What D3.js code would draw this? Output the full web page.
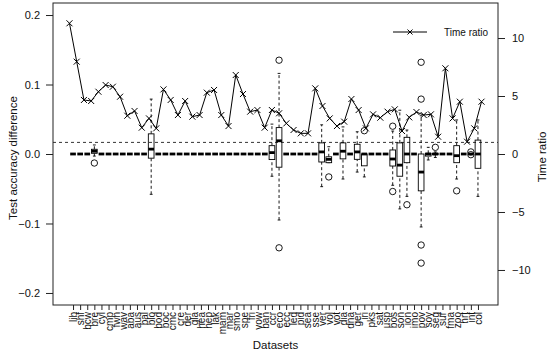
<!DOCTYPE html>
<html>
<head>
<meta charset="utf-8">
<script src="https://cdn.jsdelivr.net/npm/d3@7"></script>
<style>
  body { margin: 0; background: #fff; }
  svg { display: block; font-family: "Liberation Sans", Arial, sans-serif; }
</style>
</head>
<body>
<svg id="chart" width="550" height="356"></svg>
<script>
// dataset abbreviations along the x axis
var datasets = ["lib","shf","bcw","bre","cyl","cmp","fwn","wav","aba","aus",
  "bal","blo","bod","boc","cmc","cre","der","gla","hea","hep",
  "lak","mam","mar","smo","spe","fri","vow","ban","ccr","eco",
  "ecc","led","pid","sea","sse","ver","vol","vot","dia","dna",
  "ger","iri","pks","sat","usp","bos","son","ion","imo","pov",
  "soy","seg","sur","fma","zoo","hrt","int","col"];

// time ratio, one value per dataset (right axis)
var timeRatio = [11.27, 7.96, 4.66, 4.57, 5.37, 5.95, 5.80, 4.94, 3.30, 3.71,
  2.27, 3.07, 2.21, 5.57, 4.66, 3.36, 4.57, 3.22, 3.36, 5.29,
  5.52, 3.36, 2.41, 6.81, 5.17, 3.65, 3.79, 2.27, 3.79, 3.51,
  2.64, 2.07, 1.78, 1.78, 5.66, 4.14, 3.07, 2.41, 2.79, 4.74,
  3.79, 2.21, 3.42, 3.13, 3.65, 3.85, 1.98, 3.16, 3.62, 3.36,
  3.42, 1.49, 7.39, 3.07, 4.51, 1.06, 2.21, 4.51];

// datasets whose accuracy difference is not all zero
var boxSets = ["bre","blo","ccr","eco","ver","vol","dia","ger","iri","bos",
  "son","ion","pov","soy","seg","zoo","int","col"];
// [lower whisker, q1, median, q3, upper whisker]
var boxStats = [
  [-0.003, 0.001, 0.004, 0.0068, 0.013],
  [-0.058, -0.006, 0.007, 0.029, 0.079],
  [-0.032, -0.008, 0.002, 0.012, 0.043],
  [-0.095, -0.019, 0.019, 0.038, 0.116],
  [-0.047, -0.0115, 0.003, 0.016, 0.042],
  [-0.0125, -0.0125, -0.0077, -0.004, 0.0105],
  [-0.036, -0.007, 0.004, 0.016, 0.039],
  [-0.026, -0.0077, 0.003, 0.014, 0.032],
  [-0.033, -0.017, 0, 0, 0],
  [-0.045, -0.0173, -0.0072, 0.0058, 0.033],
  [-0.079, -0.032, -0.016, 0.016, 0.063],
  [-0.061, -0.0125, 0, 0.024, 0.0345],
  [-0.105, -0.053, -0.026, 0, 0.055],
  [-0.0086, -0.003, 0, 0.001, 0.0096],
  [-0.005, -0.001, 0, 0.001, 0.003],
  [-0.036, -0.0125, -0.0024, 0.012, 0.049],
  [0, 0, 0, 0, 0],
  [-0.061, -0.0206, 0, 0.020, 0.049]
];
// outlying points: dataset, value
var outlierSets = ["bre","eco","eco","vol","iri","bos","bos","ion","pov","pov",
  "pov","pov","seg","zoo","int","int"];
var outlierValues = [-0.013, 0.135, -0.135, -0.033, 0.0335, 0.040, -0.054, -0.073, 0.132, 0.079,
  -0.131, -0.157, 0.0096, -0.053, 0.003, -0.001];

var leftTicks = [-0.2, -0.1, 0.0, 0.1, 0.2];
var rightTicks = [-10, -5, 0, 5, 10];

var svg = d3.select("#chart");
var plot = {left: 53, right: 498, top: 3, bottom: 305};
var n = datasets.length;

// boxplot coordinates (xlim 0.5..n+0.5, 4% padding)
var xBox = d3.scaleLinear()
  .domain([0.5 - 0.04 * n, n + 0.5 + 0.04 * n])
  .range([plot.left, plot.right]);
// overlaid line plot coordinates (xlim 1..n, 4% padding)
var xLine = d3.scaleLinear()
  .domain([1 - 0.04 * (n - 1), n + 0.04 * (n - 1)])
  .range([plot.left, plot.right]);

var yAcc = d3.scaleLinear().domain([-0.2173, 0.2173]).range([plot.bottom, plot.top]);
var yTime = d3.scaleLinear().domain([-13.02, 13.02]).range([plot.bottom, plot.top]);

var boxW = 0.8 * (xBox(2) - xBox(1));

// full stats for every dataset; untouched ones collapse to zero
var allStats = datasets.map(function(name, i) {
  var k = boxSets.indexOf(name);
  return {name: name, idx: i + 1, s: k >= 0 ? boxStats[k] : [0, 0, 0, 0, 0]};
});

var g = svg.append("g");

// whiskers
allStats.forEach(function(d) {
  var cx = xBox(d.idx);
  var s = d.s;
  [[s[0], s[1]], [s[3], s[4]]].forEach(function(w) {
    if (w[0] !== w[1]) {
      g.append("line")
        .attr("x1", cx).attr("x2", cx)
        .attr("y1", yAcc(w[0])).attr("y2", yAcc(w[1]))
        .attr("stroke", "#000").attr("stroke-width", 0.9)
        .attr("stroke-dasharray", "3,2.5");
    }
  });
  [s[0], s[4]].forEach(function(v) {
    g.append("line")
      .attr("x1", cx - boxW / 4).attr("x2", cx + boxW / 4)
      .attr("y1", yAcc(v)).attr("y2", yAcc(v))
      .attr("stroke", "#000").attr("stroke-width", 0.9);
  });
});

// boxes
allStats.forEach(function(d) {
  var cx = xBox(d.idx);
  var s = d.s;
  g.append("rect")
    .attr("x", cx - boxW / 2)
    .attr("y", yAcc(s[3]))
    .attr("width", boxW)
    .attr("height", yAcc(s[1]) - yAcc(s[3]))
    .attr("fill", "#fff").attr("stroke", "#000").attr("stroke-width", 0.9);
  g.append("line")
    .attr("x1", cx - boxW / 2).attr("x2", cx + boxW / 2)
    .attr("y1", yAcc(s[2])).attr("y2", yAcc(s[2]))
    .attr("stroke", "#000").attr("stroke-width", 2.8);
});

// outliers
g.selectAll(".out")
  .data(outlierValues)
  .enter().append("circle")
  .attr("cx", function(v, i) { return xBox(datasets.indexOf(outlierSets[i]) + 1); })
  .attr("cy", function(v) { return yAcc(v); })
  .attr("r", 3.2)
  .attr("fill", "none").attr("stroke", "#000").attr("stroke-width", 0.9);

// reference line at time ratio 1
g.append("line")
  .attr("x1", plot.left).attr("x2", plot.right)
  .attr("y1", yTime(1)).attr("y2", yTime(1))
  .attr("stroke", "#000").attr("stroke-width", 0.8)
  .attr("stroke-dasharray", "3,3");

// time ratio line
var line = d3.line()
  .x(function(d, i) { return xLine(i + 1); })
  .y(function(d) { return yTime(d); });

g.append("path")
  .datum(timeRatio)
  .attr("d", line)
  .attr("fill", "none").attr("stroke", "#000").attr("stroke-width", 1);

function cross(sel, x, y, r) {
  sel.append("path")
    .attr("d", "M" + (x - r) + "," + (y - r) + "L" + (x + r) + "," + (y + r) +
      "M" + (x - r) + "," + (y + r) + "L" + (x + r) + "," + (y - r))
    .attr("stroke", "#000").attr("stroke-width", 1).attr("fill", "none");
}
timeRatio.forEach(function(v, i) { cross(g, xLine(i + 1), yTime(v), 3); });

// frame
svg.append("rect")
  .attr("x", plot.left).attr("y", plot.top)
  .attr("width", plot.right - plot.left).attr("height", plot.bottom - plot.top)
  .attr("fill", "none").attr("stroke", "#222").attr("stroke-width", 1);

// axes
var leftAxis = svg.append("g")
  .attr("transform", "translate(" + plot.left + ",0)")
  .call(d3.axisLeft(yAcc).tickValues(leftTicks).tickFormat(d3.format(".1f"))
    .tickSize(7).tickPadding(6));
var rightAxis = svg.append("g")
  .attr("transform", "translate(" + plot.right + ",0)")
  .call(d3.axisRight(yTime).tickValues(rightTicks).tickSize(7).tickPadding(7));
var bottomAxis = svg.append("g")
  .attr("transform", "translate(0," + plot.bottom + ")")
  .call(d3.axisBottom(xBox).tickValues(d3.range(1, n + 1))
    .tickFormat(function(d) { return datasets[d - 1]; }).tickSize(5));

[leftAxis, rightAxis, bottomAxis].forEach(function(a) {
  a.select(".domain").remove();
  a.selectAll(".tick line").attr("stroke", "#222");
  a.selectAll("text").attr("font-family", "Liberation Sans, Arial, sans-serif")
    .attr("fill", "#111");
});
leftAxis.selectAll("text").attr("font-size", 11);
rightAxis.selectAll("text").attr("font-size", 11);
bottomAxis.selectAll("text")
  .attr("font-size", 10)
  .attr("text-anchor", "end")
  .attr("transform", "rotate(-90)")
  .attr("x", -7)
  .attr("y", 0)
  .attr("dy", "0.35em");

// axis titles
svg.append("text")
  .attr("transform", "translate(13," + 158 + ") rotate(-90)")
  .attr("text-anchor", "middle")
  .attr("dy", "0.35em")
  .attr("font-size", 11.5)
  .attr("fill", "#111")
  .text("Test accuracy difference");

svg.append("text")
  .attr("transform", "translate(542," + 157 + ") rotate(-90)")
  .attr("text-anchor", "middle")
  .attr("dy", "0.35em")
  .attr("font-size", 11.5)
  .attr("fill", "#111")
  .text("Time ratio");

svg.append("text")
  .attr("x", (plot.left + plot.right) / 2)
  .attr("y", 349)
  .attr("text-anchor", "middle")
  .attr("font-size", 11.5)
  .attr("fill", "#111")
  .text("Datasets");

// legend
var leg = svg.append("g");
leg.append("line")
  .attr("x1", 393).attr("x2", 427).attr("y1", 32).attr("y2", 32)
  .attr("stroke", "#000").attr("stroke-width", 1);
cross(leg, 410, 32, 2.5);
leg.append("text")
  .attr("x", 444).attr("y", 32)
  .attr("dy", "0.35em")
  .attr("font-size", 10)
  .attr("fill", "#111")
  .text("Time ratio");
</script>
</body>
</html>
